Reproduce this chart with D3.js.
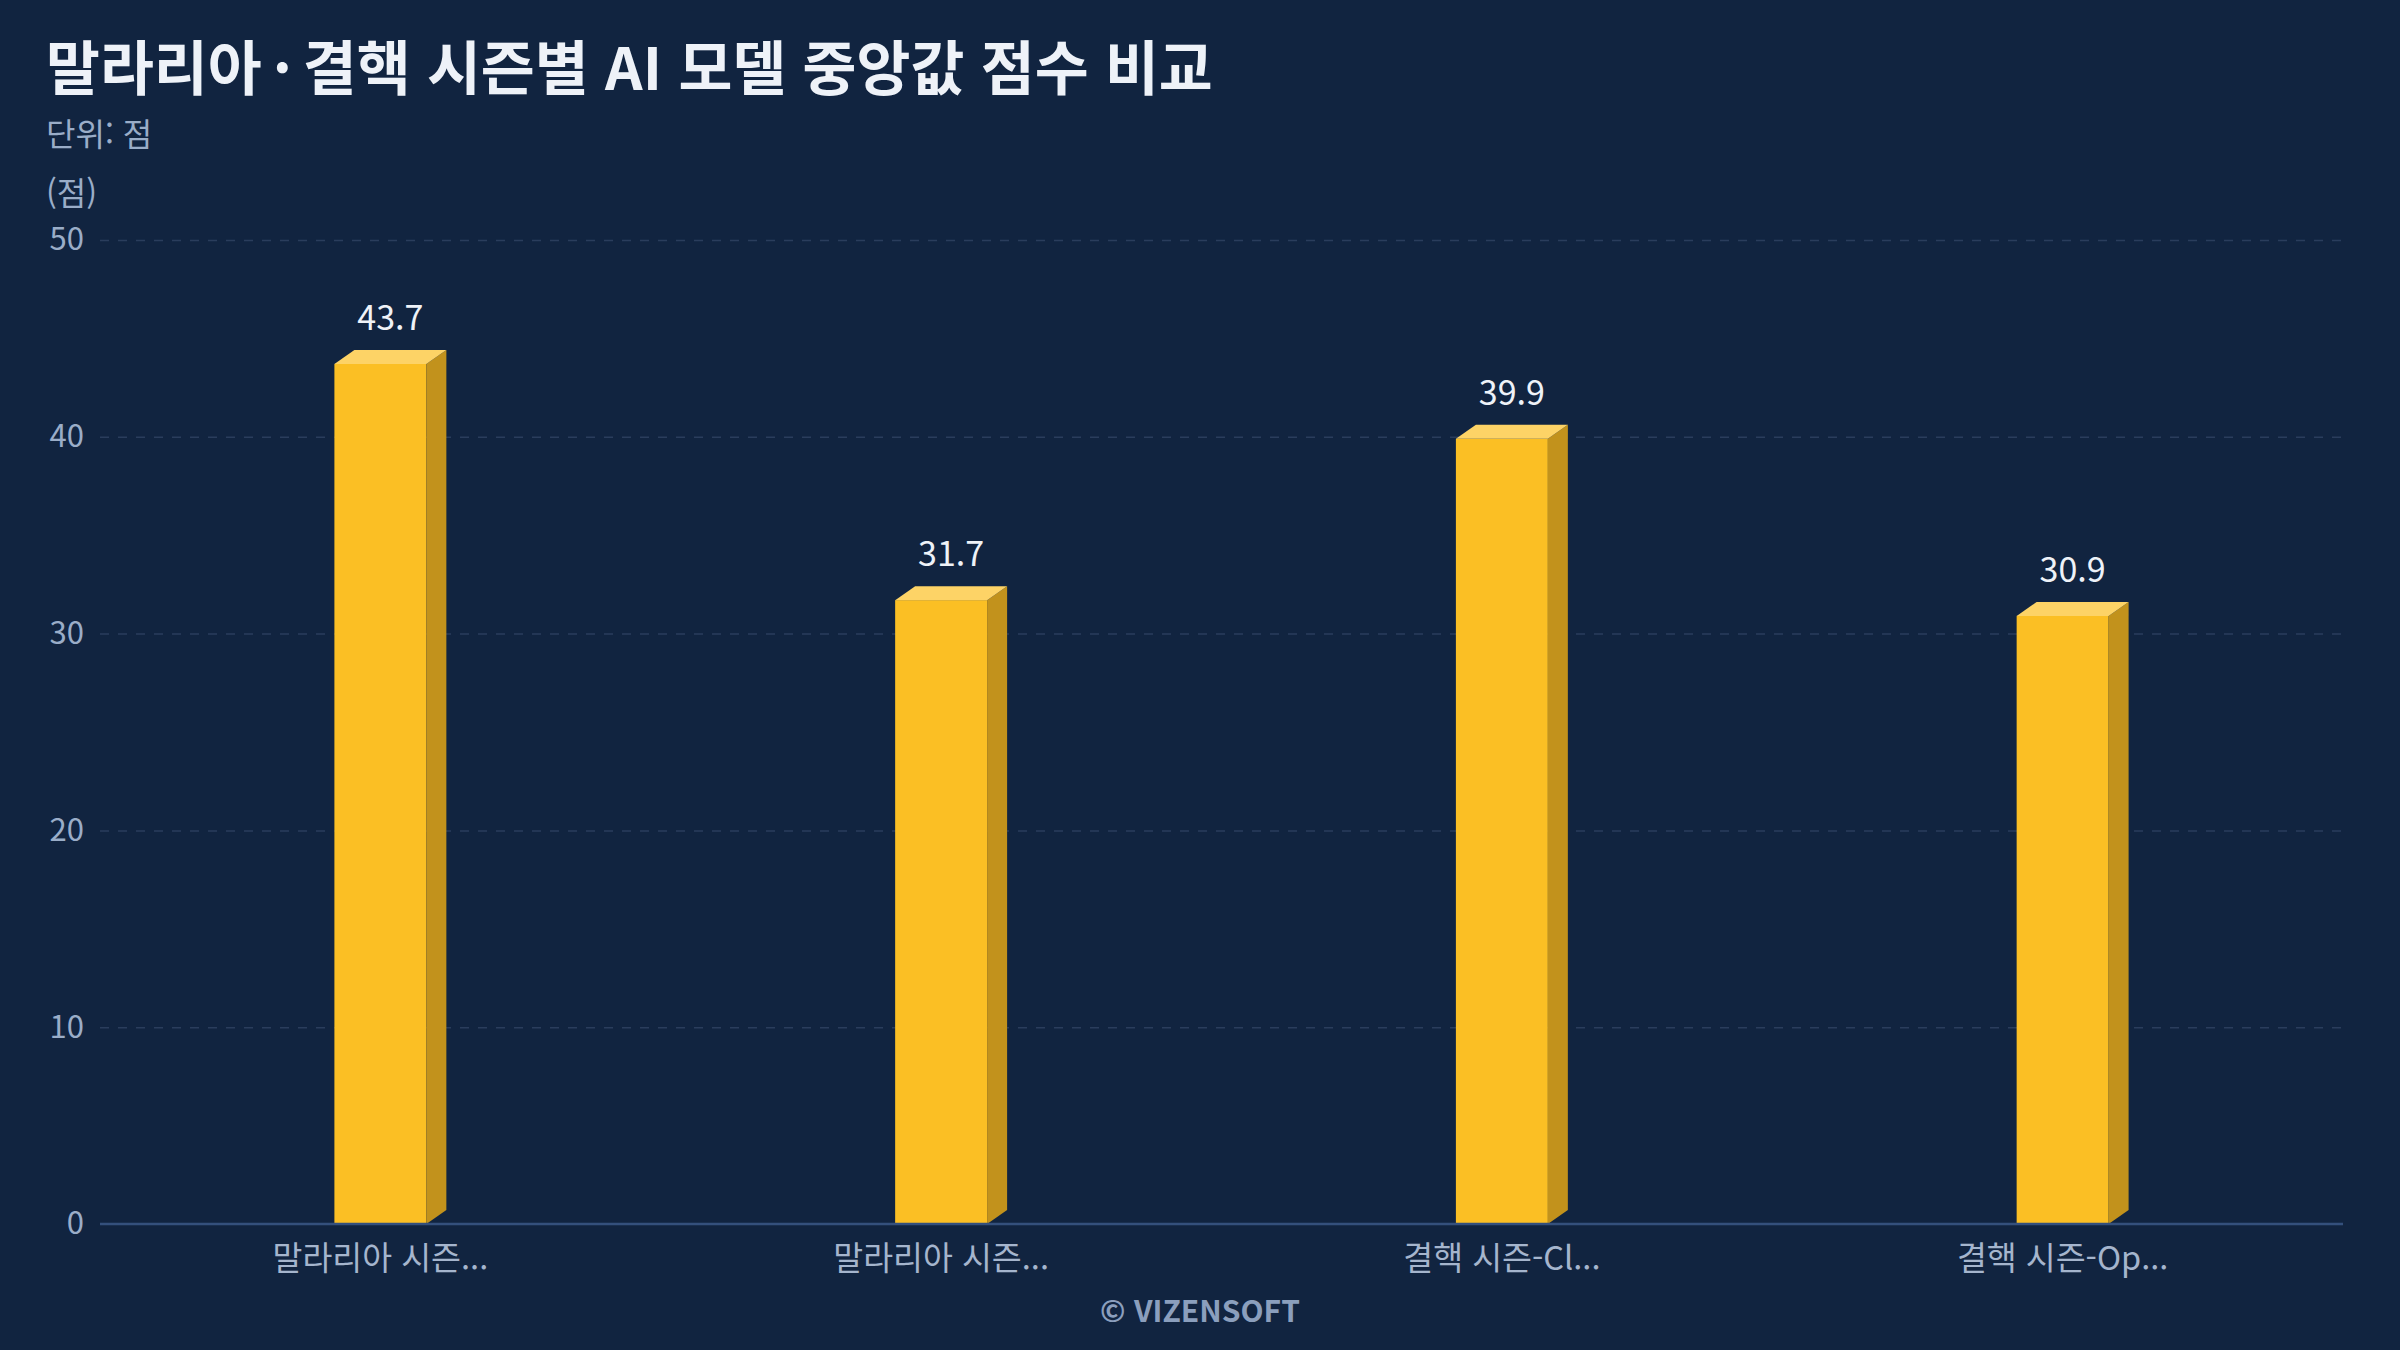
<!DOCTYPE html>
<html lang="ko">
<head>
<meta charset="utf-8">
<script src="https://cdn.jsdelivr.net/npm/d3@7"></script>
<style>
    html, body { margin: 0; padding: 0; background: #112440; }
    svg { display: block; }
    text { font-family: "Noto Sans CJK KR", "Noto Sans", sans-serif; }
</style>
</head>
<body>
<div class="container"></div>
<script>
// chart data
var categories = ["말라리아 시즌...", "말라리아 시즌...", "결핵 시즌-Cl...", "결핵 시즌-Op..."];
var category_keys = ["malaria_1", "malaria_2", "tb_cl", "tb_op"];
var median_scores = [43.7, 31.7, 39.9, 30.9];
var y_ticks = [0, 10, 20, 30, 40, 50];
var title_parts = ["말라리아", "·", "결핵 시즌별 AI 모델 중앙값 점수 비교"];

var config = {
    width: 2400,
    height: 1350,
    plot: { left: 100, right: 2343, top: 240, bottom: 1224 },
    depth: { dx: 20, dy: 14 },
    colors: {
        bg: "#112440",
        front: "#fbbf24",
        side: "#c2921c",
        top: "#fdd366",
        grid: "#2a3d5c",
        axis: "#34507c",
        tick: "#9aadc8",
        label: "#eef2f8",
        footer: "#8b9fbd"
    }
};

var svg = d3.select(".container")
    .append("svg")
    .attr("width", config.width)
    .attr("height", config.height);

svg.append("rect")
    .attr("width", config.width)
    .attr("height", config.height)
    .attr("fill", config.colors.bg);

var x = d3.scaleBand()
    .domain(category_keys)
    .range([config.plot.left, config.plot.right])
    .paddingInner(0.836)
    .paddingOuter(0.418);

var y = d3.scaleLinear()
    .domain([0, 50])
    .range([config.plot.bottom, config.plot.top]);

// titles (middle dot set wider like the original)
var title = svg.append("text")
    .attr("x", 46)
    .attr("y", 90)
    .attr("font-size", 58.6)
    .attr("font-weight", 700)
    .attr("fill", "#eef2f8");

title.selectAll("tspan")
    .data(title_parts)
    .join("tspan")
    .attr("dx", (d, i) => i === 0 ? 0 : 11)
    .text((d) => d);

svg.append("text")
    .attr("x", 46)
    .attr("y", 146)
    .attr("font-size", 32)
    .attr("fill", config.colors.tick)
    .text("단위: 점");

svg.append("text")
    .attr("x", 46)
    .attr("y", 205)
    .attr("font-size", 32)
    .attr("fill", config.colors.tick)
    .text("(점)");

// grid + y axis
var yAxis = svg.append("g")
    .attr("transform", `translate(${config.plot.left},0)`)
    .call(d3.axisLeft(y)
        .tickValues(y_ticks)
        .tickSize(-(config.plot.right - config.plot.left))
        .tickPadding(16)
        .tickFormat(d3.format("d")));

yAxis.select(".domain").remove();
yAxis.selectAll(".tick line")
    .attr("stroke", config.colors.grid)
    .attr("stroke-width", 1.5)
    .attr("stroke-dasharray", "9,9")
    .filter((d) => d === 0).remove();
yAxis.selectAll(".tick text")
    .attr("font-size", 31)
    .attr("fill", config.colors.tick)
    .attr("font-family", "\"Noto Sans CJK KR\", \"Noto Sans\", sans-serif");

// bars (front, side, top faces)
var bars = svg.append("g")
    .selectAll("g")
    .data(median_scores)
    .join("g");

var dx = config.depth.dx, dy = config.depth.dy;

bars.append("rect")
    .attr("x", (d, i) => x(category_keys[i]))
    .attr("y", (d) => y(d))
    .attr("width", x.bandwidth())
    .attr("height", (d) => y(0) - y(d))
    .attr("fill", config.colors.front);

bars.append("path")
    .attr("fill", config.colors.side)
    .attr("d", (d, i) => {
        var x1 = x(category_keys[i]) + x.bandwidth();
        return `M${x1},${y(d)} L${x1 + dx},${y(d) - dy} L${x1 + dx},${y(0) - dy} L${x1},${y(0)} Z`;
    });

bars.append("path")
    .attr("fill", config.colors.top)
    .attr("d", (d, i) => {
        var x0 = x(category_keys[i]), x1 = x0 + x.bandwidth();
        return `M${x0},${y(d)} L${x0 + dx},${y(d) - dy} L${x1 + dx},${y(d) - dy} L${x1},${y(d)} Z`;
    });

bars.append("text")
    .attr("x", (d, i) => x(category_keys[i]) + (x.bandwidth() + dx) / 2)
    .attr("y", (d) => y(d) - dy - 20)
    .attr("text-anchor", "middle")
    .attr("font-size", 34)
    .attr("fill", config.colors.label)
    .text((d) => d.toFixed(1));

// x axis line + labels
svg.append("line")
    .attr("x1", config.plot.left)
    .attr("x2", config.plot.right)
    .attr("y1", y(0))
    .attr("y2", y(0))
    .attr("stroke", config.colors.axis)
    .attr("stroke-width", 2.5);

svg.append("g")
    .selectAll("text")
    .data(categories)
    .join("text")
    .attr("x", (d, i) => x(category_keys[i]) + x.bandwidth() / 2)
    .attr("y", y(0) + 46)
    .attr("text-anchor", "middle")
    .attr("font-size", 32.5)
    .attr("fill", "#a5b5cd")
    .text((d) => d);

// footer
svg.append("text")
    .attr("x", config.width / 2)
    .attr("y", 1322)
    .attr("text-anchor", "middle")
    .attr("font-size", 30)
    .attr("font-weight", 700)
    .attr("fill", config.colors.footer)
    .text("© VIZENSOFT");
</script>
</body>
</html>
